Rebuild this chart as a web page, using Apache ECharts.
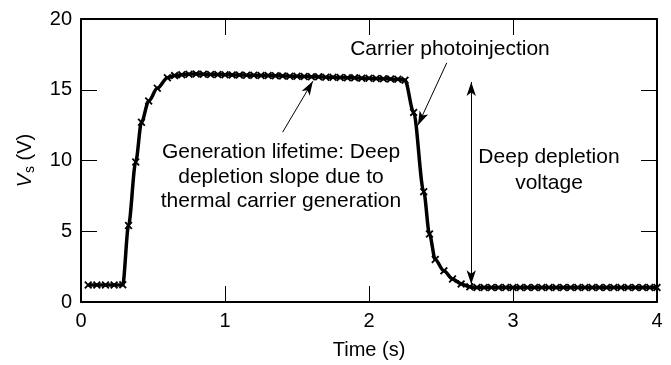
<!DOCTYPE html>
<html>
<head>
<meta charset="utf-8">
<script src="https://cdn.jsdelivr.net/npm/echarts@6/dist/echarts.min.js"></script>
<style>
  html, body { margin: 0; padding: 0; background: #fff; }
  #chart { width: 671px; height: 365px; }
</style>
</head>
<body>
<div id="chart"></div>
<script>
// Surface voltage transient of an MOS capacitor pulsed into deep depletion
const times = [
  0.05, 0.11, 0.17, 0.23, 0.29,
  0.33, 0.38, 0.42, 0.47, 0.53, 0.60,
  0.65, 0.70, 0.75, 0.80, 0.85, 0.90, 0.95, 1.00, 1.05, 1.10,
  1.15, 1.20, 1.25, 1.30, 1.35, 1.40, 1.45, 1.50, 1.55, 1.60,
  1.65, 1.70, 1.75, 1.80, 1.85, 1.90, 1.95, 2.00, 2.05, 2.10,
  2.15, 2.20, 2.25,
  2.31, 2.38, 2.42, 2.46, 2.52, 2.58, 2.64, 2.70, 2.75,
  2.80, 2.85, 2.90, 2.95, 3.00, 3.05, 3.10, 3.15, 3.20, 3.25,
  3.30, 3.35, 3.40, 3.45, 3.50, 3.55, 3.60, 3.65, 3.70, 3.75,
  3.80, 3.85, 3.90, 3.95, 4.00
];
const voltage = [
  1.20, 1.20, 1.20, 1.20, 1.22,
  5.40, 9.90, 12.70, 14.20, 15.10, 15.85,
  16.00, 16.06, 16.10, 16.12, 16.10, 16.08, 16.07, 16.06, 16.05, 16.04,
  16.03, 16.02, 16.01, 16.00, 15.99, 15.98, 15.96, 15.95, 15.94, 15.92,
  15.91, 15.89, 15.88, 15.86, 15.85, 15.84, 15.82, 15.81, 15.79, 15.78,
  15.76, 15.74, 15.68,
  13.40, 7.80, 4.80, 3.00, 2.20, 1.63, 1.28, 1.07, 1.02,
  1.03, 1.03, 1.03, 1.03, 1.03, 1.03, 1.03, 1.03, 1.03, 1.03,
  1.03, 1.03, 1.03, 1.03, 1.03, 1.03, 1.03, 1.03, 1.03, 1.03,
  1.03, 1.03, 1.03, 1.03, 1.03
];
const xTicks = [0, 1, 2, 3, 4];
const yTicks = [0, 5, 10, 15, 20];

// Annotation arrows, in (time, voltage) coordinates: [from, to]
const photoArrow = [[2.54, 16.9], [2.34, 12.5]];
const slopeArrow = [[1.40, 12.0], [1.61, 15.6]];
const depthArrow = [[2.71, 15.55], [2.71, 1.25]];

const FONT = '"Liberation Sans", Arial, Helvetica, sans-serif';
// filled "x" glyph used for the measured points
const crossPath = 'path://M0,1.6L1.6,0L5,3.4L8.4,0L10,1.6L6.6,5L10,8.4L8.4,10L5,6.6L1.6,10L0,8.4L3.4,5Z';

const chart = echarts.init(document.getElementById('chart'), null, { renderer: 'canvas' });

const axisCommon = {
  type: 'value',
  axisLine: { show: true, onZero: false, lineStyle: { color: '#000', width: 2 } },
  axisTick: { show: true, inside: true, length: 16, lineStyle: { color: '#000', width: 1 } },
  splitLine: { show: false }
};

const seriesData = times.map((t, i) => [t, voltage[i]]);

chart.setOption({
  animation: false,
  backgroundColor: '#fff',
  grid: { left: 81, right: 14, top: 19, bottom: 60, containLabel: false },
  xAxis: [
    Object.assign({}, axisCommon, {
      position: 'bottom',
      min: xTicks[0], max: xTicks[xTicks.length - 1], interval: 1,
      axisLabel: { color: '#000', fontSize: 20, fontFamily: FONT, margin: 9 },
      name: 'Time (s)', nameLocation: 'middle', nameGap: 38,
      nameTextStyle: { color: '#000', fontSize: 20, fontFamily: FONT }
    }),
    Object.assign({}, axisCommon, {
      position: 'top',
      min: xTicks[0], max: xTicks[xTicks.length - 1], interval: 1,
      axisLabel: { show: false }
    })
  ],
  yAxis: [
    Object.assign({}, axisCommon, {
      position: 'left',
      min: yTicks[0], max: yTicks[yTicks.length - 1], interval: 5,
      axisLabel: { color: '#000', fontSize: 20, fontFamily: FONT, margin: 9 },
      name: '{v|V}{s|s} (V)', nameLocation: 'middle', nameGap: 44, nameRotate: 90,
      nameTextStyle: {
        color: '#000', fontSize: 20, fontFamily: FONT,
        rich: {
          v: { fontSize: 20, fontStyle: 'italic', fontFamily: FONT, color: '#000' },
          s: { fontSize: 14, fontFamily: FONT, color: '#000', padding: [9, 0, 0, 1] }
        }
      }
    }),
    Object.assign({}, axisCommon, {
      position: 'right',
      min: yTicks[0], max: yTicks[yTicks.length - 1], interval: 5,
      axisLabel: { show: false }
    })
  ],
  series: [{
    type: 'line',
    data: seriesData,
    smooth: 0.3,
    smoothMonotone: 'x',
    symbol: crossPath,
    symbolSize: 8,
    showAllSymbol: true,
    lineStyle: { color: '#000', width: 3.5 },
    itemStyle: { color: '#000' },
    emphasis: { disabled: true },
    silent: true,
    markLine: {
      silent: true,
      symbolSize: [7, 14],
      label: { show: false },
      emphasis: { disabled: true },
      lineStyle: { color: '#000', width: 1, type: 'solid' },
      data: [
        [{ coord: photoArrow[0], symbol: 'none' }, { coord: photoArrow[1], symbol: 'arrow' }],
        [{ coord: slopeArrow[0], symbol: 'none' }, { coord: slopeArrow[1], symbol: 'arrow' }],
        [{ coord: depthArrow[0], symbol: 'arrow' }, { coord: depthArrow[1], symbol: 'arrow' }]
      ]
    }
  }],
  graphic: [
    {
      type: 'text', x: 450, y: 49,
      style: { text: 'Carrier photoinjection', font: '21px ' + FONT, fill: '#000',
               textAlign: 'center', textVerticalAlign: 'middle' }
    },
    {
      type: 'text', x: 281, y: 177,
      style: { text: 'Generation lifetime: Deep\ndepletion slope due to\nthermal carrier generation',
               font: '21px ' + FONT, fill: '#000', lineHeight: 24.5,
               textAlign: 'center', textVerticalAlign: 'middle' }
    },
    {
      type: 'text', x: 549, y: 170,
      style: { text: 'Deep depletion\nvoltage', font: '21px ' + FONT, fill: '#000', lineHeight: 26,
               textAlign: 'center', textVerticalAlign: 'middle' }
    }
  ]
});
</script>
</body>
</html>
